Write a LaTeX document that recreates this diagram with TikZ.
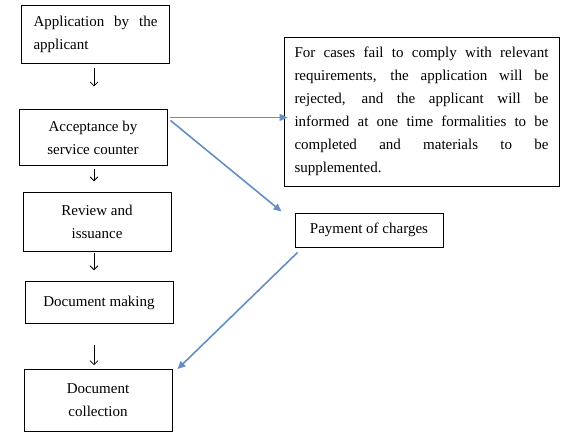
\documentclass[tikz,border=0pt]{standalone}
\usepackage{fontspec}
\setmainfont{Liberation Serif}
\usetikzlibrary{arrows.meta, positioning}
\definecolor{linkblue}{RGB}{100, 142, 196}

\begin{document}
\begin{tikzpicture}[
    x=1pt, y=-1pt,
    box/.style={draw, line width=0.9pt, minimum width=148pt, inner sep=0pt,
                align=center, font={\fontsize{15}{23}\selectfont}},
    dnarr/.style={-{Straight Barb[length=4pt, width=8pt]}, line width=0.8pt},
    bluearr/.style={-{Triangle[length=8pt, width=7pt]}, line width=1.6pt, color=linkblue},
]
\useasboundingbox (0,0) rectangle (568,439);

% --- Main column ---
\node[box, minimum height=58pt, text width=124pt, align=justify, inner xsep=11.5pt]
      at (95.5,34) (app) {Application by the\linebreak applicant};
\node[box, minimum height=56pt, below=46pt of app, xshift=-2.5pt] (acc)
      {Acceptance by\\service counter};
\node[box, minimum height=59pt, below=26pt of acc, xshift=4pt] (rev)
      {Review and\\issuance};
\node[box, minimum height=42pt, below=29pt of rev, xshift=2pt] (mak)
      {Document making};
\node[box, minimum height=62pt, below=45pt of mak, xshift=-1pt] (col)
      {Document\\collection};

% --- Side boxes ---
\node[box, minimum width=275pt, minimum height=149pt, text width=254pt,
      align=justify, inner xsep=10.5pt] at (421.5,111.5) (rej)
      {For cases fail to comply with relevant\linebreak
       requirements, the application will be\linebreak
       rejected, and the applicant will be\linebreak
       informed at one time formalities to be\linebreak
       completed and materials to be\linebreak
       supplemented.};
\node[box, minimum height=34pt] at (369,230) (pay) {Payment of charges};

% ---- Arrows ----
\coordinate (axis) at (94,0);
\draw[dnarr, shorten <=5pt, shorten >=23pt] (app.south -| axis) -- (acc.north -| axis);
\draw[dnarr, shorten <=3pt, shorten >=11pt] (acc.south -| axis) -- (rev.north -| axis);
\draw[dnarr, shorten <=1pt, shorten >=11pt] (rev.south -| axis) -- (mak.north -| axis);
\draw[dnarr, shorten <=21pt, shorten >=4pt] (mak.south -| axis) -- (col.north -| axis);

\coordinate (acc_out) at ([xshift=3pt, yshift=-8pt]acc.north east);
\draw[bluearr] (acc_out) -- ([xshift=4pt]rej.west |- acc_out);
\draw[bluearr] ([yshift=-3pt]acc_out) -- ([xshift=-13pt, yshift=1pt]pay.north west);
\draw[bluearr] ([xshift=3pt, yshift=-5pt]pay.south west) -- ([xshift=5pt]col.north east);

\end{tikzpicture}
\end{document}
